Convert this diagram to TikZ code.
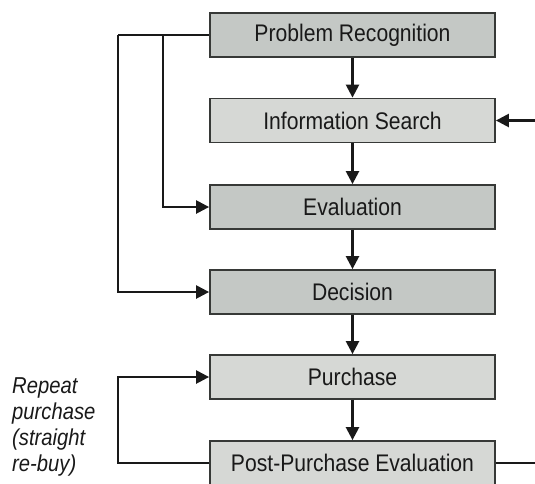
\documentclass[tikz,border=0pt]{standalone}
\usepackage{fontspec}
\setmainfont{Liberation Sans}[FakeStretch=0.88]
\usetikzlibrary{arrows.meta}
\definecolor{boxfill}{RGB}{196,200,197}
\definecolor{boxfilllight}{RGB}{214,216,213}
\definecolor{boxline}{RGB}{55,57,55}
\definecolor{ink}{RGB}{25,25,25}
\begin{document}
\begin{tikzpicture}[x=1pt,y=-1pt,
  stage/.style={draw=boxline, line width=1.8pt, fill=boxfill,
    minimum width=285pt, minimum height=44pt, inner sep=0pt,
    text=ink, font=\fontsize{24}{28}\selectfont},
  stagelight/.style={stage, fill=boxfilllight},
  flow/.style={draw=ink, line width=2.4pt,
    -{Triangle[length=13pt,width=13pt]}},
  plain/.style={draw=ink, line width=2.4pt}]
\useasboundingbox (0,0) rectangle (535,483);

% stages of the buying process
\node[stage]      (PR) at (352.5,35)  {Problem Recognition};
\node[stagelight] (IS) at (352.5,120.5) {Information Search};
\node[stage]      (EV) at (352.5,207) {Evaluation};
\node[stage]      (DE) at (352.5,292) {Decision};
\node[stagelight] (PU) at (352.5,377) {Purchase};
\node[stagelight] (PP) at (352.5,463) {Post-Purchase Evaluation};

% main downward flow
\draw[flow] (PR) -- (IS);
\draw[flow] (IS) -- (EV);
\draw[flow] (EV) -- (DE);
\draw[flow] (DE) -- (PU);
\draw[flow] (PU) -- (PP);

% shortcuts from problem recognition
\coordinate (outer) at (118,35);
\coordinate (inner) at (163,35);
\draw[plain] (PR.west) -- (outer);
\draw[flow] (inner) |- (EV.west);
\draw[flow] (outer) |- (DE.west);

% feedback into information search
\coordinate (rin) at (535,120.5);
\draw[flow] (rin) -- (IS.east);

% repeat purchase loop
\coordinate (loop) at (118,463);
\draw[flow] (PP.west) -- (loop) |- (PU.west);
\coordinate (rout) at (535,463);
\draw[plain] (PP.east) -- (rout);

% annotation
\node[anchor=north west, align=left, inner sep=0pt, text=ink,
  font=\fontsize{23}{26}\selectfont\itshape] (note) at (12,377)
  {Repeat\\purchase\\(straight\\re-buy)};
\end{tikzpicture}
\end{document}
